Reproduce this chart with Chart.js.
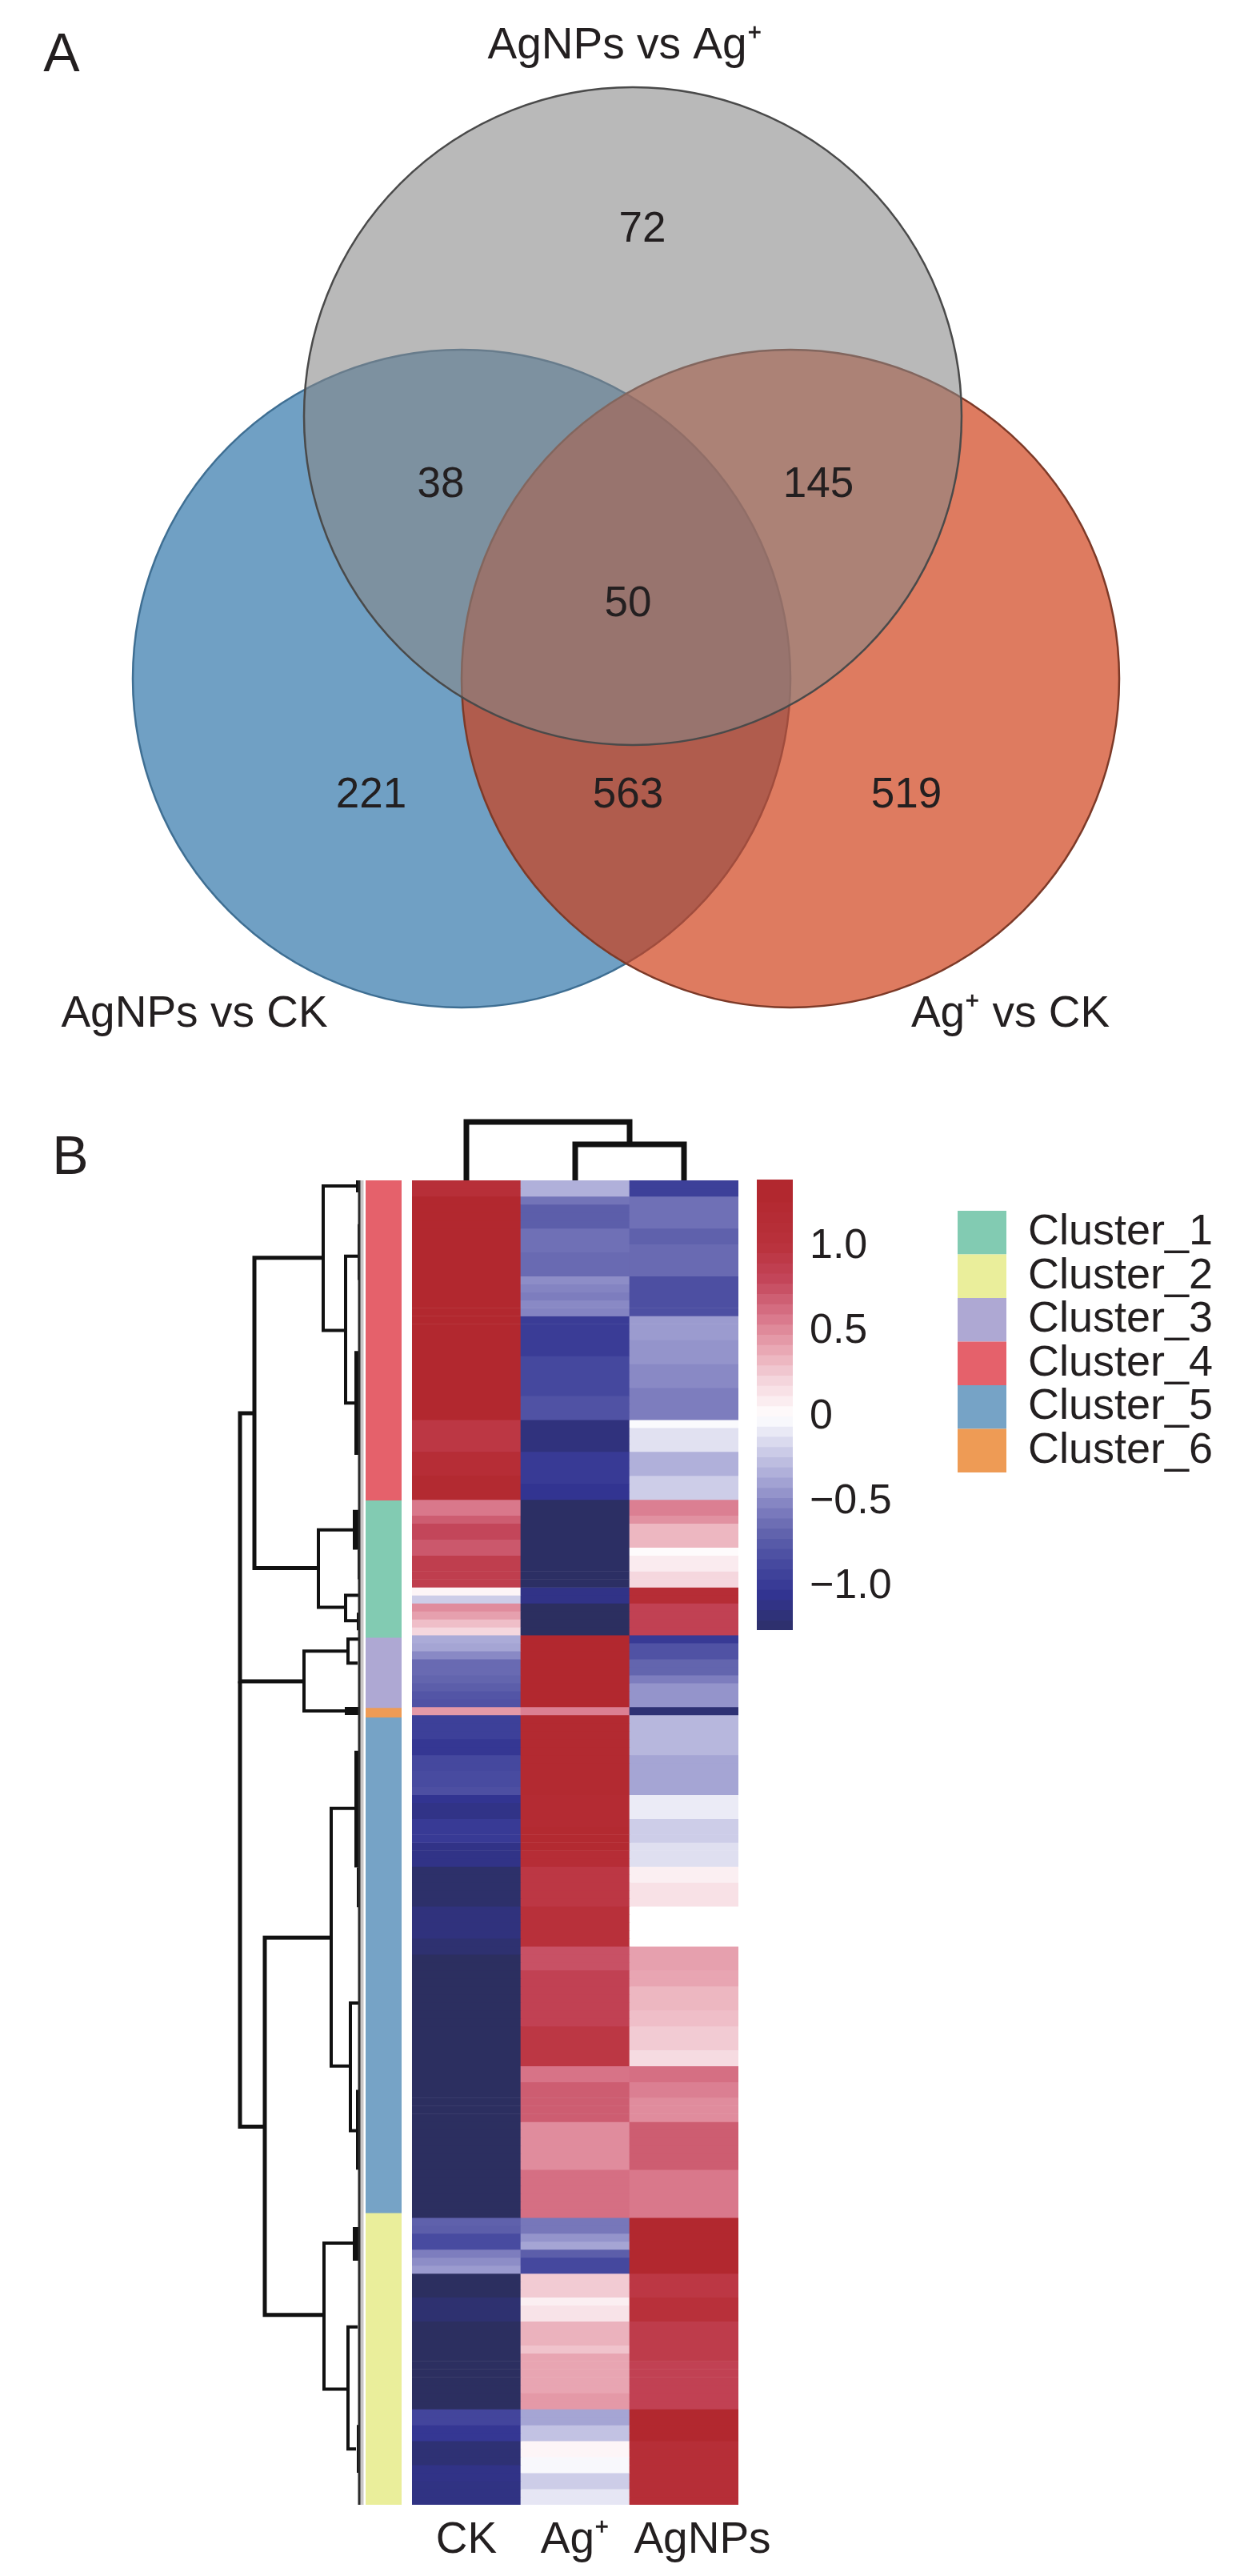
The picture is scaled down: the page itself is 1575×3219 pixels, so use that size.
<!DOCTYPE html>
<html>
<head>
<meta charset="utf-8">
<script src="https://cdn.jsdelivr.net/npm/chart.js@4"></script>
<style>
html,body{margin:0;padding:0;background:#fff;width:1575px;height:3219px;overflow:hidden}
canvas{position:absolute}
</style>
</head>
<body>
<canvas id="venn" width="1575" height="1330" style="left:0;top:0"></canvas>
<canvas id="dendroLeft" width="460" height="1740" style="left:0;top:1395px"></canvas>
<canvas id="dendroTop" width="408" height="83" style="left:515px;top:1392px"></canvas>
<canvas id="clusters" width="45" height="1655" style="left:457px;top:1475px"></canvas>
<canvas id="heat" width="485" height="1744" style="left:515px;top:1475px"></canvas>
<canvas id="colorbar" width="224" height="563" style="left:946px;top:1474px"></canvas>
<canvas id="legendBox" width="378" height="330" style="left:1197px;top:1513px"></canvas>
<script>
/* ---------- Panel A: Venn ---------- */
const vennSetNames = ['AgNPs vs Ag\u207A', 'Ag\u207A vs CK', 'AgNPs vs CK'];
const vennCenterX = [791, 988, 577];
const vennCenterY = [520, 848, 848];
const vennRadius = [411, 411, 411];
const vennFill = ['rgba(135,135,135,0.58)', 'rgba(207,61,21,0.68)', 'rgba(112,160,196,1)'];
const vennEdge = ['#4a4a4a', '#7d3a28', '#3f6f93'];
const regionCounts = ['72', '38', '145', '50', '221', '563', '519'];
const regionX = [803, 551, 1023, 785, 464, 785, 1133];
const regionY = [287, 606, 606, 755, 994, 994, 994];
const setLabelX = [781, 1263, 243];
const setLabelY = [58, 1268, 1268];

/* ---------- Panel B: heatmap (rows top to bottom) ---------- */
const sampleLabels = ['CK', 'Ag\u207A', 'AgNPs'];
const ckValues = [
 1.1,1.1,1.3,1.3,1.3,1.3,1.3,1.3,1.3,1.3,
 1.3,1.3,1.3,1.3,1.3,1.3,1.3,1.3,1.3,1.3,
 1.3,1.3,1.3,1.3,1.3,1.3,1.3,1.3,1.3,1.3,
 .95,.95,.95,.95,1.15,1.15,1.15,1.25,1.25,1.25,
 .58,.58,.7,.8,.8,.72,.72,.88,.88,.88,
 .88,.05,-.2,.5,.42,.3,.2,-.35,-.38,-.5,
 -.65,-.65,-.68,-.72,-.78,-.8,.45,-.95,-.95,-.95,
 -1.02,-1.02,-.88,-.88,-.85,-.85,-.82,-1.05,-1.1,-1.1,
 -1,-1,-1,-1.1,-1.1,-1.1,-1.25,-1.25,-1.25,-1.25,
 -1.25,-1.15,-1.15,-1.15,-1.15,-1.22,-1.22,-1.3,-1.3,-1.3,
 -1.3,-1.3,-1.3,-1.3,-1.3,-1.3,-1.3,-1.3,-1.3,-1.3,
 -1.3,-1.3,-1.3,-1.3,-1.3,-1.3,-1.3,-1.3,-1.3,-1.3,
 -1.3,-1.3,-1.3,-1.3,-1.3,-1.3,-1.3,-1.3,-1.3,-1.3,
 -.7,-.72,-.85,-.85,-.55,-.48,-.42,-1.3,-1.3,-1.3,
 -1.22,-1.22,-1.22,-1.3,-1.3,-1.3,-1.3,-1.3,-1.3,-1.3,
 -1.3,-1.3,-1.3,-1.3,-.9,-.9,-1.02,-1.02,-1.2,-1.2,
 -1.2,-1.1,-1.1,-1.12,-1.12,-1.12];
const agValues = [
 -.33,-.33,-.6,-.72,-.72,-.72,-.62,-.62,-.62,-.65,
 -.65,-.65,-.48,-.52,-.55,-.5,-.52,-.98,-.98,-.98,
 -.98,-.98,-.88,-.88,-.88,-.88,-.88,-.8,-.8,-.8,
 -1.15,-1.15,-1.15,-1.15,-1,-1,-1,-1,-1.05,-1.05,
 -1.28,-1.28,-1.28,-1.28,-1.28,-1.28,-1.28,-1.28,-1.28,-1.28,
 -1.28,-1.1,-1.1,-1.3,-1.3,-1.3,-1.3,1.3,1.3,1.3,
 1.3,1.3,1.3,1.3,1.3,1.3,.55,1.25,1.25,1.25,
 1.25,1.25,1.25,1.25,1.25,1.25,1.25,1.2,1.2,1.2,
 1.2,1.25,1.25,1.25,1.15,1.15,.95,.95,.95,.95,
 .95,1.05,1.05,1.05,1.05,1.05,.75,.75,.75,.85,
 .85,.85,.85,.85,.85,.85,.95,.95,.95,.95,
 .95,.6,.6,.7,.7,.7,.7,.7,.5,.5,
 .5,.5,.5,.5,.62,.62,.62,.62,.62,.62,
 -.58,-.58,-.45,-.38,-.72,-.88,-.88,.25,.25,.25,
 .08,.14,.14,.35,.35,.35,.28,.4,.4,.4,
 .4,.4,.45,.45,-.38,-.38,-.25,-.25,.05,.05,
 -.03,-.03,-.2,-.2,-.1,-.1];
const agnpValues = [
 -.95,-.95,-.62,-.62,-.62,-.62,-.7,-.7,-.65,-.65,
 -.65,-.65,-.82,-.82,-.82,-.82,-.82,-.42,-.42,-.42,
 -.45,-.45,-.45,-.5,-.5,-.5,-.55,-.55,-.55,-.55,
 -.02,-.12,-.12,-.12,-.33,-.33,-.33,-.2,-.2,-.2,
 .55,.55,.48,.33,.33,.33,.02,.1,.1,.2,
 .2,1.15,1.15,.85,.85,.85,.85,-1,-.8,-.8,
 -.68,-.68,-.55,-.45,-.45,-.45,-1.2,-.3,-.3,-.3,
 -.3,-.3,-.38,-.38,-.38,-.38,-.38,-.08,-.08,-.08,
 -.2,-.2,-.2,-.13,-.13,-.13,.08,.08,.15,.15,
 .15,0,0,0,0,0,.42,.42,.42,.4,
 .4,.33,.33,.33,.3,.3,.25,.25,.25,.18,
 .18,.62,.62,.55,.55,.5,.5,.5,.7,.7,
 .7,.7,.7,.7,.58,.58,.58,.58,.58,.58,
 1.3,1.3,1.3,1.3,1.3,1.3,1.3,.95,.95,.95,
 1.05,1.05,1.05,.9,.9,.9,.9,.9,.85,.85,
 .85,.85,.85,.85,1.3,1.3,1.3,1.3,1.12,1.12,
 1.12,1.12,1.12,1.12,1.12,1.12];

/* cluster strip and legend */
const clusterNames = ['Cluster_1','Cluster_2','Cluster_3','Cluster_4','Cluster_5','Cluster_6'];
const clusterColors = ['#82CBB2','#EAEE9B','#AEA8D3','#E5616B','#76A3C6','#EE9B55'];
const stripOrder = [3, 0, 2, 5, 4, 1];
const stripRows = [40.1, 17.2, 8.8, 1.2, 62.1, 36.6];

/* colour bar */
const colorbarTicks = [1, 0.5, 0, -0.5, -1];
const colorbarLevels = [-1.26,-1.2,-1.14,-1.08,-1.02,-.96,-.9,-.84,-.78,-.72,-.66,-.6,-.54,-.48,-.42,-.36,-.3,-.24,-.18,-.12,-.06,0,
 .06,.12,.18,.24,.3,.36,.42,.48,.54,.6,.66,.72,.78,.84,.9,.96,1.02,1.08,1.14,1.2,1.26,1.32,1.38];
const paletteValues = [-1.3,-1.05,-.85,-.7,-.55,-.4,-.2,0,.2,.4,.6,.8,1,1.3];
const paletteColors = [[44,47,96],[50,52,145],[72,75,160],[95,97,172],[125,125,190],[160,160,210],[205,205,232],[255,255,255],
 [245,215,222],[232,165,178],[215,115,135],[195,70,90],[185,50,60],[178,40,47]];

/* row dendrogram: merge height, the two child rows and the two child heights */
const mergeHeight = [151,151,133,47,19,53,19,71,16,120,37,13,46,16];
const mergeRowA   = [29.2,62.8,9.7,.7,9.5,43.8,52,59,57.5,94.9,78.7,103.1,133.2,143.7];
const mergeRowB   = [62.8,118.6,48.6,18.8,27.9,53.5,55.2,66.5,60.5,142.2,111,119.1,151.5,159];
const childHeightA = [133,151,47,6,2,10,2,16,2,37,8,2,10,4];
const childHeightB = [71,120,53,19,8,19,4,2,4,46,13,6,16,6];
/* dense leaf tufts beside the row dendrogram */
const tuftRowStart = [0,5.5,12.5,21.4,34.4,41.3,46.3,54.2,66,71.5,86.1,100,114,124,131.2,156];
const tuftRowEnd   = [1.5,12.5,17,34.4,40,46.3,50,56.4,67,86.1,91.1,110,124,130,135.4,162];
const tuftHeight   = [6,4,3,8,3,10,4,5,20,8,5,3,6,3,10,5];
/* column dendrogram */
const colMergeHeight = [45,73];
const colMergeA = [1.5,0.5];
const colMergeB = [2.5,2];
const colChildA = [0,0];
const colChildB = [0,45];

/* ---------- helpers ---------- */
const FONT = '"Liberation Sans", Arial, sans-serif';
const INK = '#231F20';
Chart.defaults.animation = false;
Chart.defaults.responsive = false;
Chart.defaults.events = [];
Chart.defaults.font.family = FONT;
Chart.defaults.plugins.legend.display = false;
Chart.defaults.plugins.tooltip.enabled = false;

function heatColor(v){
  const n = paletteValues.length;
  if (v <= paletteValues[0]) return 'rgb(' + paletteColors[0] + ')';
  for (let i = 1; i < n; i++){
    if (v <= paletteValues[i]){
      const t = (v - paletteValues[i-1]) / (paletteValues[i] - paletteValues[i-1]);
      const c = paletteColors[i-1].map((a, k) => Math.round(a + (paletteColors[i][k] - a) * t));
      return 'rgb(' + c + ')';
    }
  }
  return 'rgb(' + paletteColors[n-1] + ')';
}
function textPlugin(items){
  return { id: 'realText', afterDraw(chart){
    const ctx = chart.ctx;
    ctx.save();
    ctx.fillStyle = INK;
    ctx.textAlign = 'center';
    ctx.textBaseline = 'middle';
    items.forEach(t => { ctx.font = t.size + 'px ' + FONT; ctx.fillText(t.text, t.x, t.y); });
    ctx.restore();
  }};
}
const hidden = extra => Object.assign({ display: false }, extra);

/* ---------- Venn ---------- */
const vennItems = regionCounts.map((t, i) => ({ text: t, x: regionX[i], y: regionY[i], size: 53 }))
  .concat(vennSetNames.map((t, i) => ({ text: t, x: setLabelX[i], y: setLabelY[i], size: 55 })))
  .concat([{ text: 'A', x: 77, y: 70, size: 68 }]);
new Chart(document.getElementById('venn'), {
  type: 'bubble',
  data: { datasets: vennSetNames.map((name, i) => ({
    label: name,
    data: [{ x: vennCenterX[i], y: vennCenterY[i], r: vennRadius[i] }],
    backgroundColor: vennFill[i], borderColor: vennEdge[i], borderWidth: 2.5, clip: false
  }))},
  options: {
    layout: { padding: 0, autoPadding: false },
    scales: { x: hidden({ type: 'linear', min: 0, max: 1575 }), y: hidden({ type: 'linear', min: 0, max: 1330, reverse: true }) }
  },
  plugins: [textPlugin(vennItems)]
});

/* ---------- Row dendrogram ---------- */
const leftSets = [];
leftSets.push({ data: [{ x: -1.5, y: 0 }, { x: -1.5, y: 166 }], borderColor: '#c9c6c6', borderWidth: 4 });
leftSets.push({ data: [{ x: 1.5, y: 0 }, { x: 1.5, y: 166 }], borderColor: '#2b2b2b', borderWidth: 4 });
tuftHeight.forEach((h, i) => leftSets.push({
  data: [{ x: h / 2, y: tuftRowStart[i] }, { x: h / 2, y: tuftRowEnd[i] }], borderColor: '#111', borderWidth: h }));
mergeHeight.forEach((h, i) => leftSets.push({
  data: [{ x: childHeightA[i], y: mergeRowA[i] }, { x: h, y: mergeRowA[i] }, { x: h, y: mergeRowB[i] }, { x: childHeightB[i], y: mergeRowB[i] }],
  borderColor: '#111', borderWidth: h > 100 ? 5 : 4 }));
leftSets.forEach(s => Object.assign(s, { showLine: true, pointRadius: 0, clip: false, tension: 0, borderJoinStyle: 'miter' }));
new Chart(document.getElementById('dendroLeft'), {
  type: 'scatter',
  data: { datasets: leftSets },
  options: {
    layout: { padding: { top: 80, bottom: 5, right: 9, left: 0 } },
    scales: { x: hidden({ type: 'linear', min: 0, max: 451, reverse: true }), y: hidden({ type: 'linear', min: 0, max: 166, reverse: true }) }
  },
  plugins: [textPlugin([{ text: 'B', x: 88, y: 53, size: 68 }])]
});

/* ---------- Column dendrogram ---------- */
new Chart(document.getElementById('dendroTop'), {
  type: 'scatter',
  data: { datasets: colMergeHeight.map((h, i) => ({
    data: [{ x: colMergeA[i], y: colChildA[i] }, { x: colMergeA[i], y: h }, { x: colMergeB[i], y: h }, { x: colMergeB[i], y: colChildB[i] }],
    showLine: true, pointRadius: 0, borderColor: '#111', borderWidth: 7, clip: false, borderJoinStyle: 'miter', tension: 0
  }))},
  options: {
    layout: { padding: 0 },
    scales: { x: hidden({ type: 'linear', min: 0, max: 3 }), y: hidden({ type: 'linear', min: 0, max: 83 }) }
  }
});

/* ---------- Cluster strip ---------- */
new Chart(document.getElementById('clusters'), {
  type: 'bar',
  data: { labels: ['cluster'], datasets: stripOrder.map((c, i) => ({
    label: clusterNames[c], data: [stripRows[i]], backgroundColor: clusterColors[c], borderWidth: 0,
    barPercentage: 1, categoryPercentage: 1
  }))},
  options: {
    layout: { padding: 0 },
    scales: { x: hidden({ stacked: true }), y: hidden({ stacked: true, min: 0, max: 166, reverse: true }) }
  }
});

/* ---------- Heatmap ---------- */
let nudged = false;
new Chart(document.getElementById('heat'), {
  type: 'bar',
  data: { labels: sampleLabels, datasets: ckValues.map((v, i) => ({
    data: [1, 1, 1],
    backgroundColor: [heatColor(v), heatColor(agValues[i]), heatColor(agnpValues[i])],
    borderWidth: 0, barPercentage: 1, categoryPercentage: 1
  }))},
  options: {
    layout: { padding: { right: 77, left: 0, top: 0, bottom: 0 } },
    scales: {
      x: { stacked: true, grid: { display: false, drawTicks: false }, border: { display: false },
           ticks: { color: INK, font: { size: 55 }, padding: 12, maxRotation: 0, autoSkip: false },
           afterFit(s){ s.height = 89; s.paddingLeft = 0; s.paddingRight = 0; } },
      y: hidden({ stacked: true, min: 0, max: 166, reverse: true })
    }
  },
  plugins: [{ id: 'offsetLastTick', beforeDraw(chart){
    if (nudged) return;
    nudged = true;
    const items = chart.scales.x.getLabelItems();
    items[2].options.translation[0] += 23;
  }}]
});

/* ---------- Colour bar ---------- */
new Chart(document.getElementById('colorbar'), {
  type: 'bar',
  data: { labels: ['z'], datasets: colorbarLevels.map(v => ({
    data: [[v, v + 0.06]], backgroundColor: heatColor(v + 0.03), borderWidth: 0, barPercentage: 1, categoryPercentage: 1
  }))},
  options: {
    layout: { padding: 0 },
    scales: {
      x: hidden({ stacked: true }),
      y: { position: 'right', min: -1.255, max: 1.395, grid: { display: false, drawTicks: false }, border: { display: false },
           afterBuildTicks(s){ s.ticks = colorbarTicks.map(v => ({ value: v })); },
           ticks: { color: INK, font: { size: 52 }, padding: 21, autoSkip: false,
                    callback: v => v === 0 ? '0' : (v < 0 ? '\u2212' : '') + Math.abs(v).toFixed(1) },
           afterFit(s){ s.width = 179; s.paddingTop = 0; s.paddingBottom = 0; } }
    }
  }
});

/* ---------- Legend ---------- */
new Chart(document.getElementById('legendBox'), {
  type: 'bar',
  data: { labels: [''], datasets: clusterNames.map((n, i) => ({ label: n, data: [0], backgroundColor: clusterColors[i], borderWidth: 0 })) },
  options: {
    layout: { padding: 0 },
    scales: { x: hidden(), y: hidden() },
    plugins: { legend: { display: true, position: 'left', align: 'start', maxWidth: 378,
      labels: { boxWidth: 61, boxHeight: 54.5, padding: 0, color: INK, font: { size: 54 } } } }
  }
});
</script>
</body>
</html>
